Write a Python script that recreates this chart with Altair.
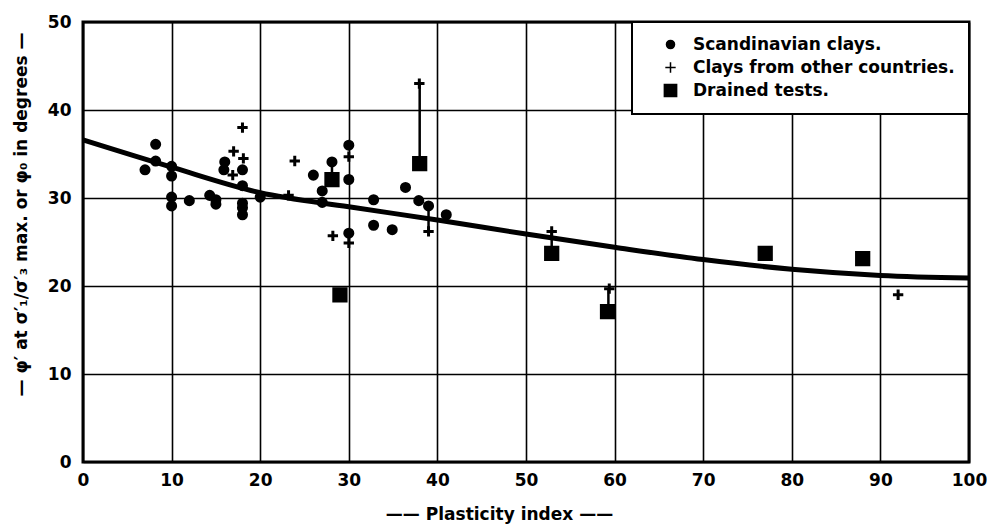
import altair as alt
import pandas as pd

# Scandinavian clays (filled dots)
scand_x = [7.0, 8.2, 8.2, 10.0, 10.0, 10.0, 10.0, 12.0, 14.3, 15.0, 15.0, 16.0, 15.9,
           18.0, 18.0, 18.0, 18.0, 18.0, 20.0, 26.0, 27.0, 27.0, 28.1, 30.0, 30.0, 30.0,
           32.8, 32.8, 34.9, 36.4, 37.9, 39.0, 41.0]
scand_y = [33.2, 36.1, 34.2, 33.6, 32.5, 30.1, 29.1, 29.7, 30.3, 29.8, 29.3, 34.1, 33.2,
           33.2, 31.4, 29.4, 28.9, 28.1, 30.1, 32.6, 30.8, 29.5, 34.1, 36.0, 32.1, 26.0,
           29.8, 26.9, 26.4, 31.2, 29.7, 29.1, 28.1]

# Clays from other countries (crosses)
other_x = [18.0, 17.0, 18.1, 16.9, 23.9, 23.2, 28.2, 30.0, 30.0, 37.96, 39.0, 52.9, 59.4, 92.0]
other_y = [38.0, 35.3, 34.5, 32.6, 34.2, 30.3, 25.7, 34.7, 24.9, 43.0, 26.2, 26.2, 19.7, 19.0]

# Drained tests (squares)
drained_x = [28.1, 29.0, 38.0, 52.9, 59.2, 77.0, 88.0]
drained_y = [32.1, 19.0, 33.9, 23.7, 17.1, 23.7, 23.1]

# Vertical links between paired tests
link_x = [28.1, 38.0, 39.0, 52.9, 59.3]
link_y1 = [34.1, 43.0, 29.1, 26.2, 19.7]
link_y2 = [32.1, 33.9, 26.2, 23.7, 17.1]

# Mean curve
curve_x = [0, 10, 20, 30, 40, 50, 60, 70, 80, 90, 100]
curve_y = [36.6, 33.5, 30.6, 29.0, 27.5, 25.9, 24.4, 23.0, 21.9, 21.2, 20.9]

labels = ["Scandinavian clays.", "Clays from other countries.", "Drained tests."]

pts = pd.DataFrame({
    "pi": scand_x + other_x + drained_x,
    "phi": scand_y + other_y + drained_y,
    "series": [labels[0]] * len(scand_x) + [labels[1]] * len(other_x) + [labels[2]] * len(drained_x),
})
links = pd.DataFrame({"pi": link_x, "y1": link_y1, "y2": link_y2})
curve = pd.DataFrame({"pi": curve_x, "phi": curve_y})

FONT = "DejaVu Sans"
xs = alt.Scale(domain=[0, 100], nice=False, zero=False)
ys = alt.Scale(domain=[0, 50], nice=False, zero=False)

x_axis = alt.Axis(values=list(range(0, 101, 10)), title="—— Plasticity index ——",
                  labelPadding=10, labelFlush=False, titleX=416, titleY=52,
                  titleBaseline="middle", titleFontSize=17)
y_axis = alt.Axis(values=list(range(0, 51, 10)), title="— φ′ at σ′₁/σ′₃ max. or φ₀ in degrees —",
                  labelPadding=12, labelFlush=False, titleX=-62, titleY=192,
                  titleBaseline="middle", titleAlign="center", titleFontSize=17)

legend = alt.Legend(title=None, orient="top-right", offset=0,
                    fillColor="white", strokeColor="black",
                    padding=14, rowPadding=5, labelFontSize=17, labelLimit=500,
                    labelFont=FONT, labelFontWeight="bold", labelOffset=14,
                    labelColor="black", symbolOffset=16)

curve_layer = alt.Chart(curve).mark_line(color="black", strokeWidth=5, interpolate="monotone").encode(
    x=alt.X("pi:Q", scale=xs, axis=x_axis),
    y=alt.Y("phi:Q", scale=ys, axis=y_axis),
)

link_layer = alt.Chart(links).mark_rule(color="black", strokeWidth=2.5).encode(
    x=alt.X("pi:Q", scale=xs),
    y=alt.Y("y1:Q", scale=ys),
    y2="y2:Q",
)

point_layer = alt.Chart(pts).mark_point(filled=True, color="black", stroke="black",
                                        strokeWidth=3, opacity=1).encode(
    x=alt.X("pi:Q", scale=xs),
    y=alt.Y("phi:Q", scale=ys),
    shape=alt.Shape("series:N",
                    scale=alt.Scale(domain=labels, range=["circle", "M-1,0H1M0,-1V1", "square"]),
                    legend=legend),
    size=alt.Size("series:N", scale=alt.Scale(domain=labels, range=[65, 150, 80]), legend=legend),
)

chart = alt.layer(curve_layer, link_layer, point_layer).properties(
    width=886, height=440,
    padding={"left": 83, "top": 22, "right": 18, "bottom": 62},
    autosize="none",
    background="white",
).configure_view(
    stroke="black", strokeWidth=3
).configure_axis(
    grid=True, gridColor="black", gridWidth=1.6, gridOpacity=1,
    domain=False, ticks=False,
    labelFont=FONT, labelFontWeight="bold", labelFontSize=17, labelColor="black",
    titleFont=FONT, titleFontWeight="bold", titleColor="black",
).configure_legend(
    strokeWidth=2
)

chart.save("out.html", embed_options={"renderer": "svg", "actions": False})
